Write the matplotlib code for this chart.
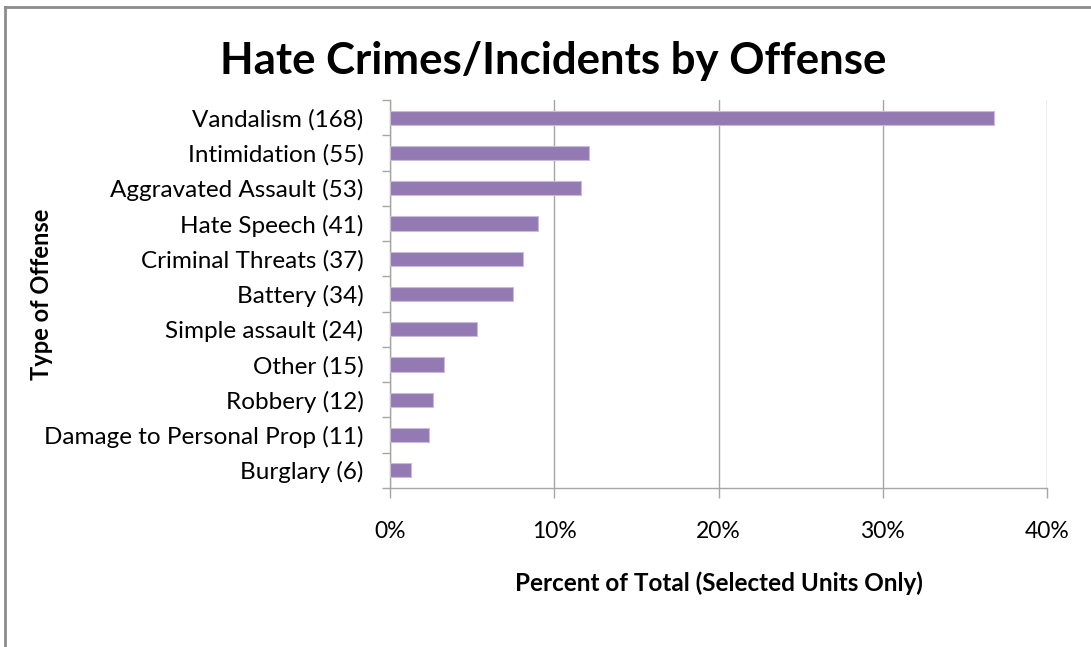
import matplotlib.pyplot as plt
from matplotlib.lines import Line2D
import numpy as np

plt.rcParams['font.family'] = ['Lato', 'DejaVu Sans']

# ---- data (percent of total) ----
offenses = ['Vandalism (168)', 'Intimidation (55)', 'Aggravated Assault (53)',
            'Hate Speech (41)', 'Criminal Threats (37)', 'Battery (34)',
            'Simple assault (24)', 'Other (15)', 'Robbery (12)',
            'Damage to Personal Prop (11)', 'Burglary (6)']
percents = [36.8, 12.1, 11.6, 9.0, 8.1, 7.5, 5.3, 3.3, 2.6, 2.4, 1.3]
xticks = [0, 10, 20, 30, 40]
xtick_labels = ['0%', '10%', '20%', '30%', '40%']

bar_color = '#937ab3'
grid_color = '#a6a6a6'

fig = plt.figure(figsize=(10.91, 6.47), dpi=100)
ax = fig.add_axes([390 / 1091, 1 - 488 / 647, (1047 - 390) / 1091, (488 - 100) / 647])

y = np.arange(len(offenses))
ax.barh(y, percents, height=0.4, color=bar_color, edgecolor='#c9bcdb', linewidth=0.8, zorder=3)

ax.set_ylim(len(offenses) - 0.5, -0.5)
ax.set_xlim(0, 40)

# category ticks sit between the bars
ax.set_yticks(np.arange(len(offenses) + 1) - 0.5)
ax.set_yticklabels([])
ax.set_yticks(y, minor=True)
ax.set_yticklabels(offenses, minor=True, fontsize=17.5)
ax.tick_params(axis='y', which='minor', length=0, pad=19)
ax.tick_params(axis='y', which='major', length=6, color=grid_color, width=1)

ax.set_xticks(xticks)
ax.set_xticklabels(xtick_labels, fontsize=16.5)
ax.tick_params(axis='x', length=7, color=grid_color, width=1, pad=17, direction='out')

ax.grid(axis='x', color=grid_color, linewidth=1, zorder=0)
for s in ['top', 'right']:
    ax.spines[s].set_visible(False)
for s in ['left', 'bottom']:
    ax.spines[s].set_color(grid_color)
    ax.spines[s].set_linewidth(1)

ax.set_xlabel('Percent of Total (Selected Units Only)', fontsize=17.5, fontweight='bold', labelpad=21)

fig.text(553 / 1091, 1 - 61 / 647, 'Hate Crimes/Incidents by Offense', fontsize=31.5,
         fontweight='bold', ha='center', va='center')
fig.text(42 / 1091, 1 - 294 / 647, 'Type of Offense', fontsize=17, fontweight='bold',
         rotation=90, ha='center', va='center')

# outer chart border (top and left visible)
fig.add_artist(Line2D([5 / 1091, 1.0], [1 - 7 / 647, 1 - 7 / 647], transform=fig.transFigure,
                      color='#8c8c8c', linewidth=2))
fig.add_artist(Line2D([5 / 1091, 5 / 1091], [0, 1 - 7 / 647], transform=fig.transFigure,
                      color='#8c8c8c', linewidth=2))

fig.savefig('out.png', dpi=100)
